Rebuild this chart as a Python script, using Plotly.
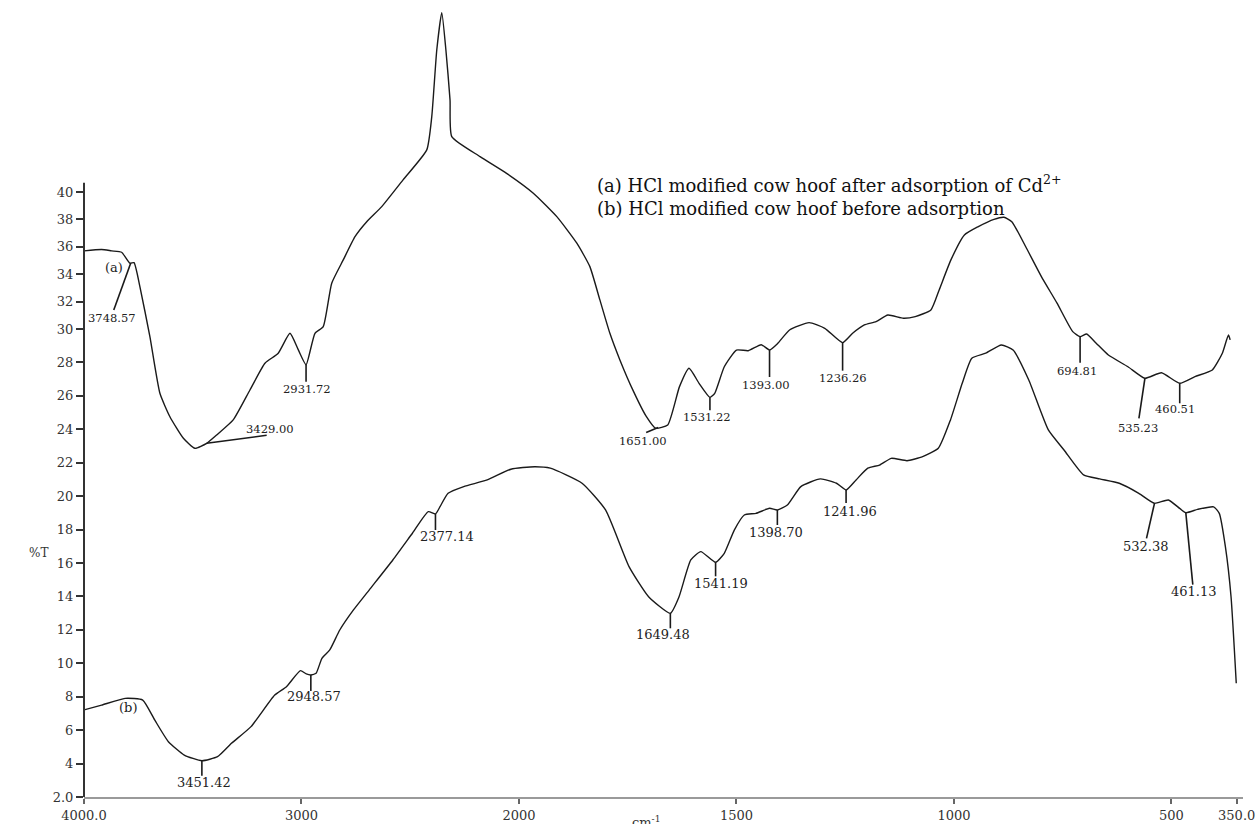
import numpy as np
import plotly.graph_objects as go

# ---------------- data (wavenumber in cm-1, %T) ----------------
# (a) HCl modified cow hoof after adsorption of Cd2+
wn_a = [4000, 3919, 3873, 3827, 3789, 3770, 3743, 3697, 3651, 3605, 3543, 3490, 3436, 3390,
        3314, 3237, 3168, 3107, 3053, 3015, 2979, 2938, 2900, 2861, 2808, 2754, 2700, 2631,
        2533, 2424, 2401, 2378, 2355, 2336, 2317, 2309, 2179, 2057, 1967, 1913, 1867, 1837,
        1814, 1791, 1768, 1737, 1707, 1686, 1658, 1631, 1609, 1586, 1561, 1550, 1528, 1500,
        1473, 1443, 1424, 1405, 1378, 1333, 1297, 1256, 1233, 1206, 1179, 1152, 1116, 1089,
        1053, 1034, 1007, 976, 944, 908, 885, 867, 835, 799, 763, 727, 710, 695, 673, 645,
        600, 561, 523, 481, 446, 406, 383, 369, 365]
T_a = [35.7, 35.8, 35.7, 35.6, 34.8, 34.84, 33.09, 29.54, 26.15, 24.75, 23.46, 22.86, 23.16, 23.66,
       24.56, 26.35, 27.95, 28.55, 29.74, 28.76, 27.86, 29.74, 30.17, 33.34, 35.04, 36.74, 37.83, 38.93,
       40.88, 43.07, 45.5, 50.36, 53.09, 50.36, 46.72, 44.04, 42.58, 41.36, 39.91, 38.2, 36.26, 34.55,
       32.12, 29.74, 28.15, 26.28, 24.75, 24.06, 24.26, 26.55, 27.65, 26.75, 25.91, 26.15, 27.74, 28.74,
       28.7, 29.06, 28.74, 29.14, 29.94, 30.46, 30.05, 29.18, 29.74, 30.29, 30.53, 31.02, 30.78, 30.9,
       31.39, 32.85, 35.04, 36.86, 37.47, 38.0, 38.15, 37.83, 36.0, 33.82, 31.88, 29.84, 29.54, 29.7,
       29.15, 28.44, 27.74, 27.05, 27.38, 26.75, 27.15, 27.55, 28.55, 29.64, 29.35]

# (b) HCl modified cow hoof before adsorption
wn_b = [4000, 3919, 3811, 3730, 3675, 3612, 3539, 3458, 3386, 3322, 3232, 3123, 3069, 3005,
        2978, 2957, 2933, 2906, 2870, 2824, 2761, 2689, 2580, 2490, 2417, 2384, 2363, 2326,
        2254, 2146, 2037, 1964, 1928, 1855, 1801, 1747, 1702, 1652, 1632, 1605, 1582, 1548,
        1528, 1505, 1482, 1455, 1424, 1406, 1383, 1352, 1307, 1270, 1248, 1225, 1198, 1171,
        1144, 1108, 1072, 1036, 1008, 981, 959, 927, 891, 864, 828, 783, 747, 702, 665, 620,
        575, 539, 507, 467, 440, 403, 390, 376, 363, 351]
T_b = [7.21, 7.5, 7.9, 7.8, 6.61, 5.31, 4.51, 4.17, 4.41, 5.21, 6.21, 8.1, 8.6, 9.56,
       9.36, 9.3, 9.4, 10.3, 10.8, 11.99, 13.19, 14.38, 16.18, 17.78, 19.07, 18.93, 19.37, 20.17,
       20.57, 20.97, 21.61, 21.76, 21.67, 20.77, 19.17, 15.78, 13.98, 12.99, 13.98, 16.18, 16.68, 16.04,
       16.58, 17.97, 18.87, 18.97, 19.27, 19.17, 19.47, 20.57, 21.03, 20.77, 20.37, 20.97, 21.67, 21.86,
       22.26, 22.12, 22.36, 22.86, 24.56, 26.75, 28.25, 28.55, 29.04, 28.74, 26.95, 23.96, 22.76, 21.27,
       21.03, 20.77, 20.17, 19.57, 19.77, 19.01, 19.21, 19.36, 18.97, 16.98, 13.98, 8.8]

# peak labels: (text, position on axis in cm-1)
peaks_a_text = ["3748.57", "3429.00", "2931.72", "1651.00", "1531.22", "1393.00", "1236.26",
                "694.81", "535.23", "460.51"]
peaks_a_pos = [3785, 3436, 2979, 1680, 1561, 1424, 1256, 710, 561, 481]
peaks_b_text = ["3451.42", "2948.57", "2377.14", "1649.48", "1541.19", "1398.70", "1241.96",
                "532.38", "461.13"]
peaks_b_pos = [3458, 2957, 2384, 1652, 1548, 1406, 1248, 539, 467]

x_ticks = [4000, 3000, 2000, 1500, 1000, 500, 350]
x_tick_text = ["4000.0", "3000", "2000", "1500", "1000", "500", "350.0"]
y_ticks = [2, 4, 6, 8, 10, 12, 14, 16, 18, 20, 22, 24, 26, 28, 30, 32, 34, 36, 38, 40]
y_tick_text = ["2.0"] + [str(v) for v in y_ticks[1:]]

# ---------------- styling (pixel offsets of peak markers: line dx, dy, text dx, dy) ----------------
style_a = [(-17, 47, -19, 46), (60, -8, 63, -5), (0, 17, 1, 15), (-12, 5, -15, 4), (0, 13, -3, 11),
           (0, 27, -4, 26), (0, 28, 0, 26), (0, 26, -3, 25), (-6, 40, -7, 41), (0, 20, -5, 17)]
style_b = [(0, 15, 2, 12), (0, 16, 3, 12), (0, 16, 12, 13), (0, 15, -7, 12), (0, 14, 5, 12),
           (0, 15, -1, 13), (0, 13, 4, 12), (-8, 35, -8, 34), (7, 72, 8, 69)]

SERIF = "DejaVu Serif"
INK = "#1a1a1a"


def to_u(w):
    """FTIR abscissa: scale doubles below 2000 cm-1."""
    w = np.asarray(w, float)
    return np.where(w >= 2000, 4000 - w, 2000 + 2 * (2000 - w))


def to_y(t):
    """Ordinate: axis is compressed above 30 %T as in the source."""
    t = np.asarray(t, float)
    return np.where(t <= 30, t, 30 + (t - 30) * 13.7 / 16.714)


fig = go.Figure()
ua, ya = to_u(wn_a), to_y(T_a)
ub, yb = to_u(wn_b), to_y(T_b)
fig.add_trace(go.Scatter(x=ua, y=ya, mode="lines",
                         line=dict(color=INK, width=1.4, shape="spline", smoothing=0.5),
                         showlegend=False, hoverinfo="skip"))
fig.add_trace(go.Scatter(x=ub, y=yb, mode="lines",
                         line=dict(color=INK, width=1.4, shape="spline", smoothing=0.5),
                         showlegend=False, hoverinfo="skip"))

shapes = []
annotations = []


def add_peaks(texts, pos, styles, cu, cy, size):
    for txt, p, (ldx, ldy, tdx, tdy) in zip(texts, pos, styles):
        u = float(to_u(p))
        yv = float(np.interp(u, cu, cy))
        shapes.append(dict(type="line", xref="x", yref="y", xsizemode="pixel", ysizemode="pixel",
                           xanchor=u, yanchor=yv, x0=0, x1=ldx, y0=0, y1=-ldy,
                           line=dict(color=INK, width=1.6)))
        annotations.append(dict(x=u, y=yv, xref="x", yref="y", text=txt, showarrow=False,
                                xshift=tdx, yshift=-tdy,
                                yanchor="bottom" if tdy < 0 else "top", xanchor="center",
                                font=dict(family=SERIF, size=size, color="#222")))


add_peaks(peaks_a_text, peaks_a_pos, style_a, ua, ya, 11.5)
add_peaks(peaks_b_text, peaks_b_pos, style_b, ub, yb, 13)

# y axis line only spanning the labelled range
shapes.append(dict(type="line", xref="paper", yref="y", x0=0, x1=0, y0=2,
                   y1=float(to_y(40)) + 0.55, line=dict(color="#333", width=2)))

annotations += [
    dict(x=0.0167, y=0.676, xref="paper", yref="paper", text="(a)", showarrow=False,
         font=dict(family=SERIF, size=13, color="#222")),
    dict(x=0.0281, y=0.1, xref="paper", yref="paper", text="(b)", showarrow=False,
         font=dict(family=SERIF, size=13, color="#222")),
    dict(x=0.4409, y=0.7543, xref="paper", yref="paper", xanchor="left", yanchor="middle",
         align="left",
         text="(a) HCl modified cow hoof after adsorption of Cd<sup>2+</sup><br>"
              "(b) HCl modified cow hoof before adsorption",
         showarrow=False, font=dict(family=SERIF, size=18, color="#111")),
    dict(x=-0.0492, y=0.2949, xref="paper", yref="paper", text="%T", showarrow=False,
         font=dict(family=SERIF, size=12, color="#333")),
    dict(x=0.485, y=-0.0314, xref="paper", yref="paper", text="cm<sup>-1</sup>", showarrow=False,
         yanchor="middle", font=dict(family=SERIF, size=13, color="#333")),
]

fig.update_layout(
    width=1255, height=824,
    margin=dict(l=84, r=12, t=0, b=27),
    paper_bgcolor="white", plot_bgcolor="white",
    shapes=shapes, annotations=annotations,
    xaxis=dict(range=[0, 5329], tickmode="array", tickvals=to_u(x_ticks).tolist(),
               ticktext=x_tick_text, showline=True, linecolor="#9a9a9a", linewidth=2,
               ticks="outside", ticklen=5, tickwidth=1.5, tickcolor="#666",
               showgrid=False, zeroline=False, ticklabeloverflow="allow",
               tickfont=dict(family=SERIF, size=13, color="#333")),
    yaxis=dict(range=[2, 49.68], tickmode="array", tickvals=to_y(y_ticks).tolist(),
               ticktext=y_tick_text, showline=False, ticks="outside", ticklen=7, tickwidth=1.5,
               tickcolor="#333", showgrid=False, zeroline=False,
               tickfont=dict(family=SERIF, size=13, color="#333")),
)

fig.write_html("out.html", config={"displayModeBar": False},
               post_script="document.body.style.margin='0';document.body.style.padding='0';")
